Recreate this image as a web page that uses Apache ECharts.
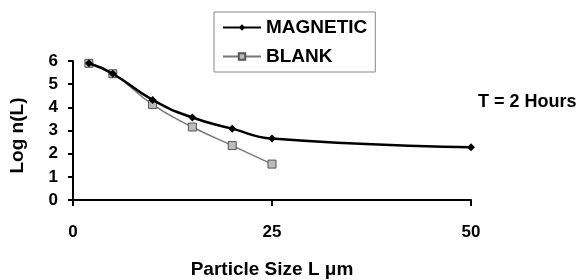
<!DOCTYPE html>
<html>
<head>
<meta charset="utf-8">
<script src="https://cdn.jsdelivr.net/npm/echarts@6/dist/echarts.min.js"></script>
<style>
  html, body { margin: 0; padding: 0; background: #fff; }
  #main { width: 587px; height: 280px; }
</style>
</head>
<body>
<div id="main"></div>
<script>
// particle size (um) and Log n(L) for each run
const magneticSize = [2, 5, 10, 15, 20, 25, 50]
const magneticLog = [5.9, 5.45, 4.32, 3.56, 3.08, 2.65, 2.28]
const blankSize = [2, 5, 10, 15, 20, 25]
const blankLog = [5.9, 5.45, 4.12, 3.15, 2.35, 1.55]

const pair = (xs, ys) => xs.map((x, i) => [x, ys[i]])

const font = 'Liberation Sans, Arial, sans-serif'
const chart = echarts.init(document.getElementById('main'))

chart.setOption({
  animation: false,
  grid: { left: 72, right: 116, top: 61, bottom: 80 },
  legend: {
    orient: 'vertical',
    left: 214,
    top: 12,
    padding: [6, 8, 6, 8],
    itemGap: 10,
    itemWidth: 38,
    itemHeight: 8,
    borderColor: '#888',
    borderWidth: 1,
    textStyle: { fontFamily: font, fontWeight: 'bold', fontSize: 19, color: '#000' },
    data: ['MAGNETIC', 'BLANK']
  },
  graphic: [{
    type: 'text',
    left: 478,
    top: 93,
    style: { text: 'T = 2 Hours', font: 'bold 18px ' + font, fill: '#000' }
  }],
  xAxis: {
    type: 'value',
    min: 0,
    max: 50,
    interval: 25,
    name: 'Particle Size L \u03bcm',
    nameLocation: 'middle',
    nameGap: 60,
    nameTextStyle: { fontFamily: font, fontWeight: 'bold', fontSize: 19, color: '#000' },
    axisLine: { lineStyle: { color: '#000', width: 2 } },
    axisTick: { show: true, length: 6, lineStyle: { color: '#000', width: 2 } },
    axisLabel: { margin: 24, fontFamily: font, fontWeight: 'bold', fontSize: 17, color: '#000' },
    splitLine: { show: false }
  },
  yAxis: {
    type: 'value',
    min: 0,
    max: 6,
    interval: 1,
    name: 'Log n(L)',
    nameLocation: 'middle',
    nameGap: 46,
    nameTextStyle: { fontFamily: font, fontWeight: 'bold', fontSize: 19, color: '#000', padding: [0, 10, 0, 0] },
    axisLine: { show: true, lineStyle: { color: '#000', width: 2 } },
    axisTick: { show: true, length: 5, lineStyle: { color: '#000', width: 2 } },
    axisLabel: { margin: 15, fontFamily: font, fontWeight: 'bold', fontSize: 17, color: '#000' },
    splitLine: { show: false }
  },
  series: [
    {
      name: 'MAGNETIC',
      type: 'line',
      smooth: true,
      symbol: 'diamond',
      symbolSize: 8,
      z: 3,
      lineStyle: { color: '#000', width: 2.5 },
      itemStyle: { color: '#000' },
      data: pair(magneticSize, magneticLog)
    },
    {
      name: 'BLANK',
      type: 'line',
      smooth: true,
      symbol: 'rect',
      symbolSize: 8,
      z: 2,
      lineStyle: { color: '#777', width: 1.5 },
      itemStyle: { color: '#bbb', borderColor: '#555', borderWidth: 1 },
      data: pair(blankSize, blankLog)
    }
  ]
})
</script>
</body>
</html>
